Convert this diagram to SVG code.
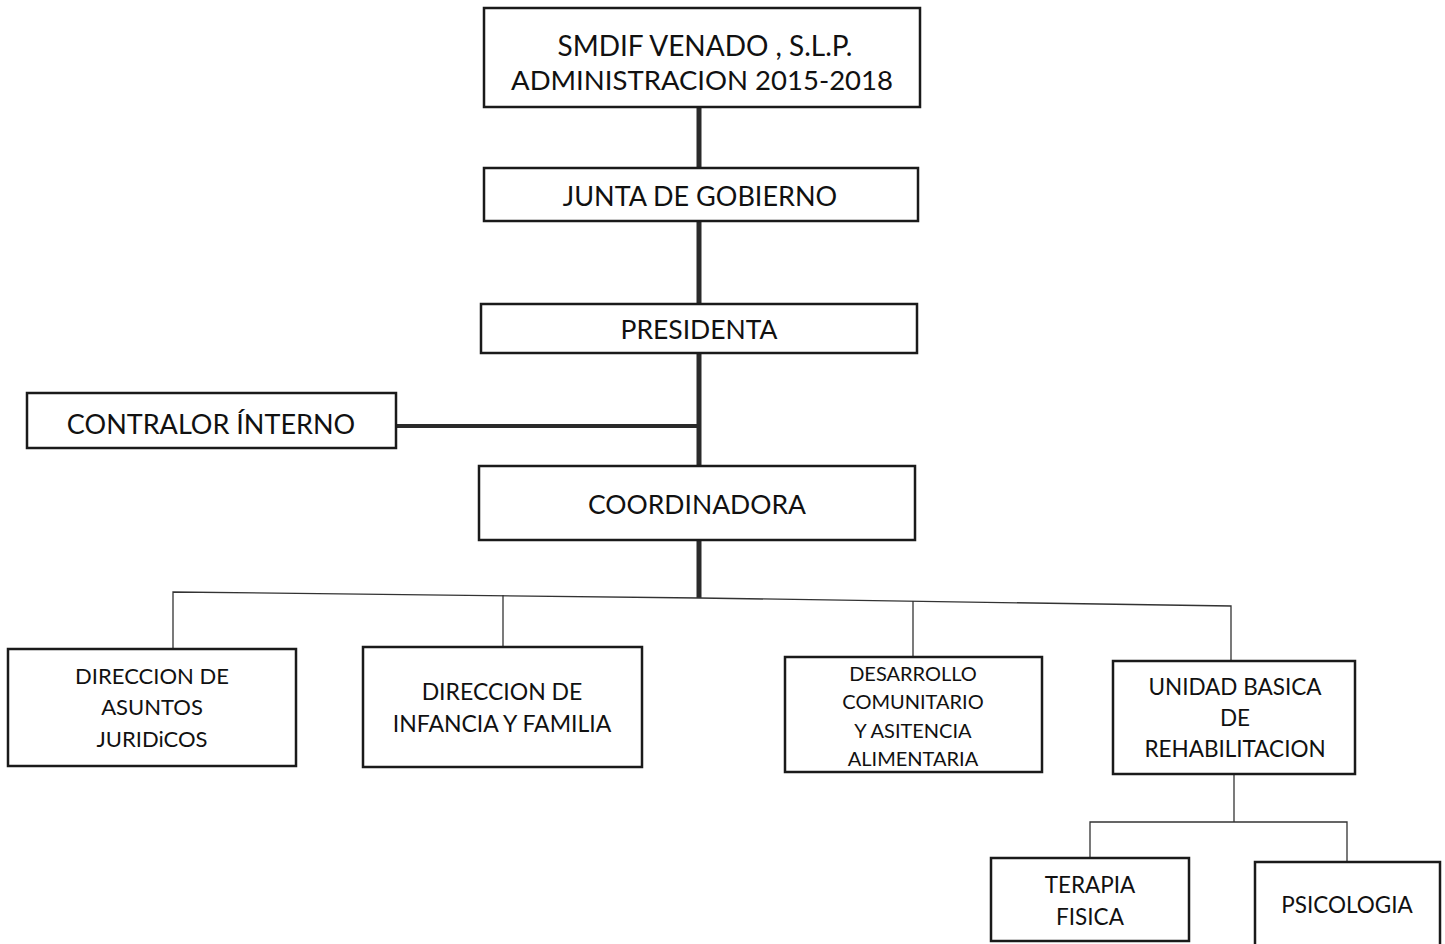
<svg xmlns="http://www.w3.org/2000/svg" width="1445" height="944" viewBox="0 0 1445 944">
<style>
.box{fill:#fff;stroke:#1a1a1a;stroke-width:2.5}
.t{font-family:Lato,"Open Sans",sans-serif;fill:#111;text-anchor:middle}
.thick{stroke:#2a2a2a;stroke-width:5;fill:none}
.mid{stroke:#2a2a2a;stroke-width:4;fill:none}
.thin{stroke:#333;stroke-width:1.3;fill:none}
</style>
<rect width="1445" height="944" fill="#fff"/>
<g id="connectors">
<line class="thick" x1="699" y1="107" x2="699" y2="598"/>
<line class="mid" x1="396" y1="426" x2="699" y2="426"/>
<polyline class="thin" points="173,649 173,592 699,598 1231,606 1231,661"/>
<line class="thin" x1="503" y1="595" x2="503" y2="647"/>
<line class="thin" x1="913" y1="601" x2="913" y2="657"/>
<polyline class="thin" points="1234,774 1234,822"/>
<polyline class="thin" points="1090,858 1090,822 1347,822 1347,862"/>
</g>
<g id="n-smdif"><rect class="box" x="484" y="8" width="436" height="99"/>
<text class="t" x="705" y="56" font-size="28">SMDIF VENADO , S.L.P.</text>
<text class="t" x="702" y="90" font-size="27.5">ADMINISTRACION 2015-2018</text></g>
<g id="n-junta"><rect class="box" x="484" y="168" width="434" height="53"/>
<text class="t" x="700" y="206" font-size="27">JUNTA DE GOBIERNO</text></g>
<g id="n-presidenta"><rect class="box" x="481" y="304" width="436" height="49"/>
<text class="t" x="699" y="339" font-size="26.5">PRESIDENTA</text></g>
<g id="n-contralor"><rect class="box" x="27" y="393" width="369" height="55"/>
<text class="t" x="211" y="434" font-size="27">CONTRALOR ÍNTERNO</text></g>
<g id="n-coordinadora"><rect class="box" x="479" y="466" width="436" height="74"/>
<text class="t" x="697" y="514" font-size="26.5">COORDINADORA</text></g>
<g id="n-juridicos"><rect class="box" x="8" y="649" width="288" height="117"/>
<text class="t" x="152" y="684" font-size="22">DIRECCION DE</text>
<text class="t" x="152" y="715" font-size="22">ASUNTOS</text>
<text class="t" x="152" y="747" font-size="22">JURIDiCOS</text></g>
<g id="n-infancia"><rect class="box" x="363" y="647" width="279" height="120"/>
<text class="t" x="502" y="700" font-size="23">DIRECCION DE</text>
<text class="t" x="502" y="732" font-size="23">INFANCIA Y FAMILIA</text></g>
<g id="n-desarrollo"><rect class="box" x="785" y="657" width="257" height="115"/>
<text class="t" x="913" y="681" font-size="20">DESARROLLO</text>
<text class="t" x="913" y="709" font-size="20">COMUNITARIO</text>
<text class="t" x="913" y="738" font-size="20">Y ASITENCIA</text>
<text class="t" x="913" y="766" font-size="20">ALIMENTARIA</text></g>
<g id="n-unidad"><rect class="box" x="1113" y="661" width="242" height="113"/>
<text class="t" x="1235" y="695" font-size="22.5">UNIDAD BASICA</text>
<text class="t" x="1235" y="726" font-size="22.5">DE</text>
<text class="t" x="1235" y="757" font-size="22.5">REHABILITACION</text></g>
<g id="n-terapia"><rect class="box" x="991" y="858" width="198" height="83"/>
<text class="t" x="1090" y="893" font-size="22.5">TERAPIA</text>
<text class="t" x="1090" y="925" font-size="22.5">FISICA</text></g>
<g id="n-psicologia"><rect class="box" x="1255" y="862" width="185" height="84"/>
<text class="t" x="1347" y="913" font-size="22.5">PSICOLOGIA</text></g>
</svg>
